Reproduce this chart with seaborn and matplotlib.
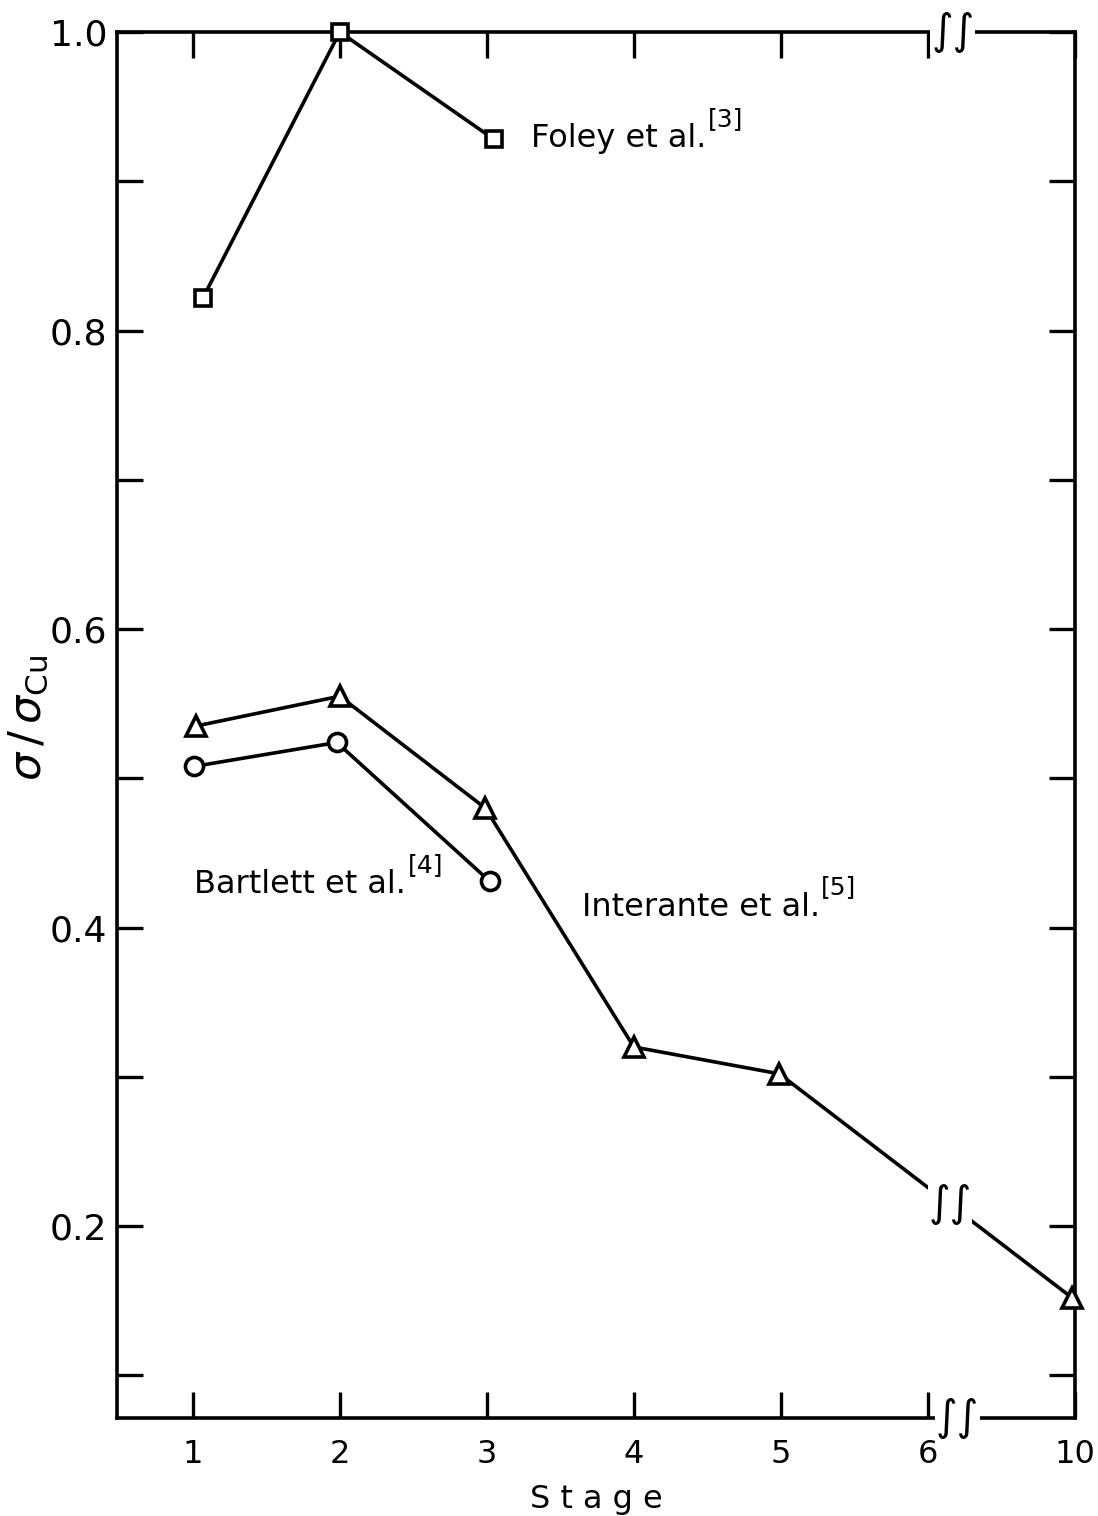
import numpy as np
import pandas as pd
import matplotlib
matplotlib.use("Agg")
import matplotlib.pyplot as plt
import seaborn as sns

# Stage axis: positions 1..7, the last position carries stage 10 (axis break)
stage_labels = ["1", "2", "3", "4", "5", "6", "10"]
stage_pos = [1, 2, 3, 4, 5, 6, 7]

# Foley et al. [3]
foley_x = [1.07, 2.0, 3.05]
foley_y = [0.822, 1.0, 0.928]

# Bartlett et al. [4]
bartlett_x = [1.01, 1.98, 3.02]
bartlett_y = [0.508, 0.524, 0.431]

# Interante et al. [5]
interante_x = [1.02, 2.0, 2.99, 4.0, 4.99, 6.98]
interante_y = [0.535, 0.555, 0.480, 0.320, 0.302, 0.152]

sns.set_theme(style="white")
plt.rcParams["font.family"] = ["DejaVu Sans"]
plt.rcParams["text.color"] = "black"
plt.rcParams["axes.labelcolor"] = "black"
plt.rcParams["xtick.color"] = "black"
plt.rcParams["ytick.color"] = "black"

fig = plt.figure(figsize=(10.98, 15.16), dpi=100)
ax = fig.add_axes([0.1066, 0.0646, 0.8724, 0.9143])

series = [
    (foley_x, foley_y, "s", 12),
    (bartlett_x, bartlett_y, "o", 13),
    (interante_x, interante_y, "^", 15),
]
for xs, ys, mk, ms in series:
    df = pd.DataFrame({"stage": xs, "ratio": ys})
    sns.lineplot(data=df, x="stage", y="ratio", ax=ax, color="black",
                 linewidth=2.6, marker=mk, markersize=ms,
                 markerfacecolor="white", markeredgecolor="black",
                 markeredgewidth=2.6, clip_on=False, zorder=3)

ax.set_xlim(0.485, 7.0)
ax.set_ylim(0.0714, 1.0)

ax.set_xticks(stage_pos)
ax.set_xticklabels(stage_labels)
ax.set_yticks([0.2, 0.4, 0.6, 0.8, 1.0])
ax.set_yticklabels(["0.2", "0.4", "0.6", "0.8", "1.0"])
ax.set_yticks([0.1, 0.3, 0.5, 0.7, 0.9], minor=True)

for side in ["left", "right", "top", "bottom"]:
    ax.spines[side].set_visible(True)
    ax.spines[side].set_color("black")
    ax.spines[side].set_linewidth(2.6)

ax.tick_params(axis="both", which="both", direction="in", length=19,
               width=2.4, color="black", labelcolor="black", top=True,
               right=True, bottom=True, left=True)
ax.tick_params(axis="y", which="major", labelsize=26, pad=7)
ax.tick_params(axis="x", which="major", labelsize=23, pad=15)

ax.set_xlabel("S t a g e", fontsize=23, labelpad=10, color="black")
ax.set_ylabel(r"$\sigma\,/\,\sigma_{\mathrm{Cu}}$", fontsize=32, color="black")
ax.yaxis.set_label_coords(-0.07, 0.505)

# Series labels with bracketed reference numbers as superscripts
def label(x, y, name, ref):
    t = ax.text(x, y, name, color="black", fontsize=23, va="baseline",
                ha="left")
    ax.annotate(ref, xy=(1.0, 0.75), xycoords=t, xytext=(1, 0),
                textcoords="offset points", fontsize=18, color="black",
                va="bottom", ha="left")

label(3.30, 0.923, "Foley et al.", "[3]")
label(1.01, 0.423, "Bartlett et al.", "[4]")
label(3.644, 0.408, "Interante et al.", "[5]")

# Axis-break marks
brk = dict(color="black", fontsize=30, ha="center", va="center",
           bbox=dict(facecolor="white", edgecolor="none", pad=0.5),
           clip_on=False, zorder=5)
ax.text(6.17, 1.0, "\u222b\u222b", **brk)
ax.text(6.2, 0.0714, "\u222b\u222b", **brk)
bx = 6.15
by = float(np.interp(bx, interante_x, interante_y))
ax.text(bx, by, "\u222b\u222b", **brk)

fig.savefig("out.png", dpi=100, facecolor="white")
